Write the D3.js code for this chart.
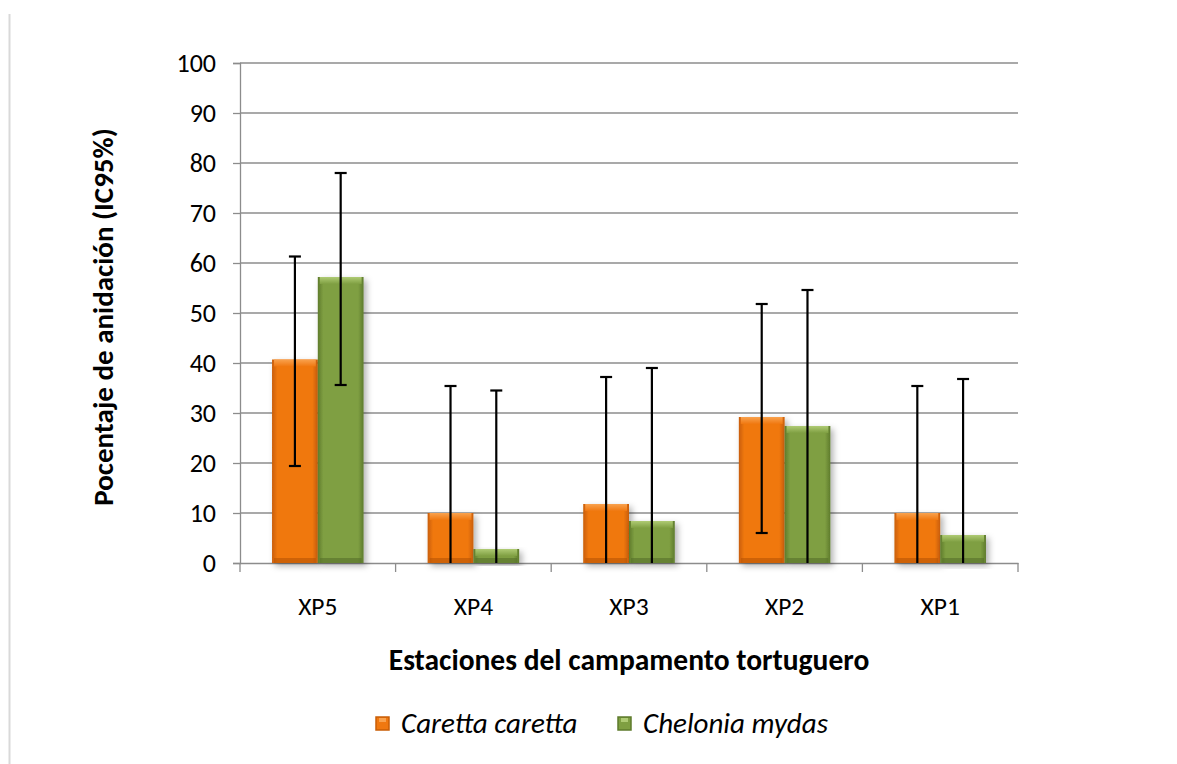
<!DOCTYPE html>
<html><head><meta charset="utf-8">
<script src="https://cdn.jsdelivr.net/npm/d3@7"></script>
<style>body{margin:0;background:#fff;}svg{display:block;font-family:Calibri,Carlito,Lato,"Open Sans",sans-serif;}</style>
</head><body>
<svg id="c" width="1177" height="764"></svg>
<script>
const categories = ["XP5","XP4","XP3","XP2","XP1"];
const seriesNames = ["Caretta caretta","Chelonia mydas"];
const carettaValues = [40.7, 10.0, 11.8, 29.2, 10.0];
const carettaLow    = [19.4, 0, 0, 6.0, 0];
const carettaHigh   = [61.3, 35.4, 37.2, 51.8, 35.4];
const cheloniaValues = [57.2, 2.8, 8.4, 27.4, 5.6];
const cheloniaLow    = [35.6, 0, 0, 0, 0];
const cheloniaHigh   = [78.0, 34.5, 39.0, 54.6, 36.8];
const yTicks = [0,10,20,30,40,50,60,70,80,90,100];

const FONT = "Calibri,Carlito,Lato,'Open Sans',sans-serif";
const svg = d3.select("#c");
const defs = svg.append("defs");
const colors = [
  {id:"or", main:"#F07810", edge:"#C95E06", top:"#F9A24E", bot:"#B85404"},
  {id:"gr", main:"#7F9F42", edge:"#5E7B2C", top:"#AFCB74", bot:"#55702A"}
];
colors.forEach(c=>{
  const g = defs.append("linearGradient").attr("id",c.id+"h").attr("x1",0).attr("x2",1).attr("y1",0).attr("y2",0);
  g.append("stop").attr("offset","0%").attr("stop-color",c.edge);
  g.append("stop").attr("offset","12%").attr("stop-color",c.main);
  g.append("stop").attr("offset","88%").attr("stop-color",c.main);
  g.append("stop").attr("offset","100%").attr("stop-color",c.edge);
  const v = defs.append("linearGradient").attr("id",c.id+"t").attr("x1",0).attr("x2",0).attr("y1",0).attr("y2",1);
  v.append("stop").attr("offset","0%").attr("stop-color",c.top);
  v.append("stop").attr("offset","100%").attr("stop-color",c.main);
});
const f = defs.append("filter").attr("id","sh").attr("x","-20%").attr("y","-10%").attr("width","150%").attr("height","130%");
f.append("feDropShadow").attr("dx",3).attr("dy",3).attr("stdDeviation",3).attr("flood-color","#000").attr("flood-opacity",0.3);

// frame line
svg.append("line").attr("x1",9.5).attr("x2",9.5).attr("y1",14).attr("y2",764).attr("stroke","#d9d9d9").attr("stroke-width",2);

const m = {l:240, r:1018, t:63, b:563};
const x = d3.scaleBand().domain(categories).range([m.l,m.r]).paddingInner(0).paddingOuter(0);
const y = d3.scaleLinear().domain([0,100]).range([m.b,m.t]);

// grid
svg.append("g").selectAll("line").data(yTicks.filter(d=>d>0)).join("line")
  .attr("x1",m.l).attr("x2",m.r).attr("y1",d=>y(d)).attr("y2",d=>y(d))
  .attr("stroke","#8c8c8c").attr("stroke-width",1.3);

// y axis
const ya = svg.append("g").attr("transform",`translate(${m.l},0)`).call(d3.axisLeft(y).tickValues(yTicks).tickSize(7).tickPadding(17));
ya.select(".domain").attr("stroke","#8c8c8c").attr("stroke-width",1.3);
ya.selectAll(".tick line").attr("stroke","#8c8c8c").attr("stroke-width",1.3);
ya.selectAll("text").attr("font-size",26).attr("fill","#000").attr("font-family",FONT);

// x axis
const xa = svg.append("g").attr("transform",`translate(0,${m.b})`).call(d3.axisBottom(x).tickSize(0).tickPadding(34));
xa.select(".domain").attr("stroke","#8c8c8c").attr("stroke-width",1.3);
xa.selectAll("text").attr("font-size",25.5).attr("fill","#000").attr("font-family",FONT);
const bounds = categories.map(c=>x(c)).concat([x(categories[categories.length-1])+x.bandwidth()]);
svg.append("g").selectAll("line").data(bounds).join("line")
  .attr("x1",d=>d).attr("x2",d=>d).attr("y1",m.b).attr("y2",m.b+9)
  .attr("stroke","#8c8c8c").attr("stroke-width",1.3);

// bars
const xs = d3.scaleBand().domain([0,1]).range([0,x.bandwidth()]).paddingInner(0).paddingOuter(0.7);
const data = [
  categories.map((c,i)=>({c, s:0, v:carettaValues[i], lo:carettaLow[i], hi:carettaHigh[i]})),
  categories.map((c,i)=>({c, s:1, v:cheloniaValues[i], lo:cheloniaLow[i], hi:cheloniaHigh[i]}))
];
const bw = xs.bandwidth();
data.forEach((arr,si)=>{
  const c = colors[si];
  const g = svg.append("g");
  const bars = g.selectAll("g").data(arr).join("g");
  bars.append("rect").attr("x",d=>x(d.c)+xs(si)).attr("y",d=>y(d.v)).attr("width",bw).attr("height",d=>y(0)-y(d.v))
    .attr("fill",`url(#${c.id}h)`).attr("filter","url(#sh)");
  bars.append("rect").attr("x",d=>x(d.c)+xs(si)+2).attr("y",d=>y(d.v)).attr("width",bw-4).attr("height",d=>Math.min(7,(y(0)-y(d.v))/2))
    .attr("fill",`url(#${c.id}t)`);
  bars.append("rect").attr("x",d=>x(d.c)+xs(si)+2).attr("y",d=>y(0)-Math.min(5,(y(0)-y(d.v))/2)).attr("width",bw-4).attr("height",d=>Math.min(5,(y(0)-y(d.v))/2))
    .attr("fill",c.bot).attr("opacity",0.6);
});

// error bars
data.forEach((arr,si)=>{
  const g = svg.append("g").attr("stroke","#000").attr("stroke-width",2.2);
  arr.forEach(d=>{
    const cx = x(d.c)+xs(si)+bw/2;
    g.append("line").attr("x1",cx).attr("x2",cx).attr("y1",y(d.lo)).attr("y2",y(d.hi));
    g.append("line").attr("x1",cx-6).attr("x2",cx+6).attr("y1",y(d.hi)).attr("y2",y(d.hi));
    if (d.lo>0) g.append("line").attr("x1",cx-6).attr("x2",cx+6).attr("y1",y(d.lo)).attr("y2",y(d.lo));
  });
});

// titles
svg.append("text").attr("transform",`translate(113,${(m.t+m.b)/2 + 4}) rotate(-90)`).attr("text-anchor","middle")
  .attr("font-size",29).attr("font-weight","bold").attr("font-family",FONT).text("Pocentaje de anidación (IC95%)");
svg.append("text").attr("x",629).attr("y",670).attr("text-anchor","middle")
  .attr("font-size",29.5).attr("font-weight","bold").attr("font-family",FONT).text("Estaciones del campamento tortuguero");

// legend
const leg = svg.append("g");
const legX = [376, 618];
seriesNames.forEach((n,i)=>{
  const c = colors[i];
  leg.append("rect").attr("x",legX[i]).attr("y",717).attr("width",13).attr("height",13).attr("fill",c.main).attr("stroke",c.edge).attr("stroke-width",1.5);
  leg.append("rect").attr("x",legX[i]+3).attr("y",718).attr("width",7).attr("height",4).attr("fill",c.top);
  leg.append("text").attr("x",legX[i]+25).attr("y",733).attr("font-size",29).attr("font-style","italic").attr("font-family",FONT).text(n);
});
</script>
</body></html>
